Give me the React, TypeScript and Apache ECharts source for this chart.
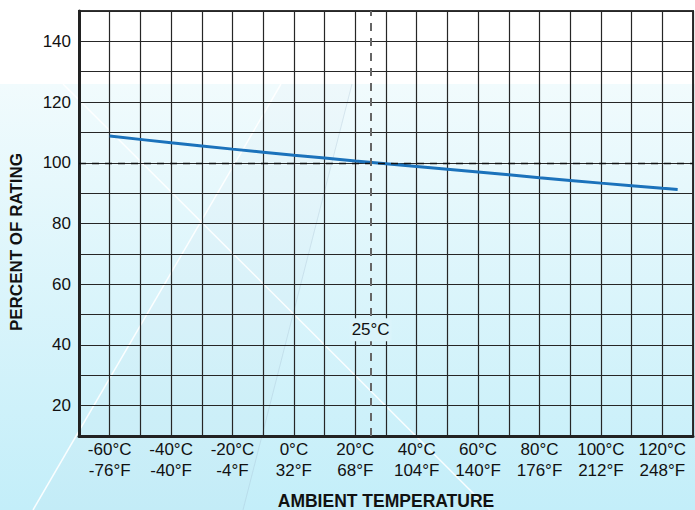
import React, { useEffect, useRef } from "react";
import * as echarts from "echarts";

const tempC = [-60, -40, -20, 0, 20, 40, 60, 80, 100, 120, 125];
const rating = [108.8, 106.6, 104.5, 102.5, 100.6, 98.8, 97.0, 95.1, 93.3, 91.6, 91.2];
const celsiusTicks = [-60, -40, -20, 0, 20, 40, 60, 80, 100, 120];
const fahrenheitTicks = [-76, -40, -4, 32, 68, 104, 140, 176, 212, 248];
const yTicks = [20, 40, 60, 80, 100, 120, 140];
const refTemp = 25;
const refRating = 100;
const refLabelLevel = 45;

const FONT = "'Liberation Sans', Arial, Helvetica, sans-serif";

export default function App() {
  const ref = useRef<HTMLDivElement>(null);
  useEffect(() => {
    if (!ref.current) return;
    const chart = echarts.init(ref.current, null, { renderer: "svg" });
    const gridColor = "#262626";
    chart.setOption({
      animation: false,
      backgroundColor: "#ffffff",
      textStyle: { fontFamily: FONT },
      graphic: [
        {
          type: "rect",
          z: -10,
          silent: true,
          shape: { x: 0, y: 84, width: 695, height: 426 },
          style: {
            fill: new echarts.graphic.LinearGradient(0, 0, 0, 1, [
              { offset: 0, color: "#f1fbfd" },
              { offset: 1, color: "#c3eef9" },
            ]),
          },
        },
        {
          type: "polygon",
          z: -9,
          silent: true,
          shape: { points: [[281, 84], [352, 84], [243, 510], [33, 510]] },
          style: { fill: "rgba(205,215,230,0.08)" },
        },
        {
          type: "line",
          z: -8,
          silent: true,
          shape: { x1: 63, y1: 84, x2: 490, y2: 510 },
          style: { stroke: "rgba(255,255,255,0.9)", lineWidth: 1.5 },
        },
        {
          type: "line",
          z: -8,
          silent: true,
          shape: { x1: 281, y1: 84, x2: 33, y2: 510 },
          style: { stroke: "rgba(255,255,255,0.9)", lineWidth: 1.5 },
        },
        {
          type: "line",
          z: -8,
          silent: true,
          shape: { x1: 352, y1: 84, x2: 243, y2: 510 },
          style: { stroke: "rgba(160,185,205,0.3)", lineWidth: 1 },
        },
        {
          type: "text",
          x: 16,
          y: 242,
          rotation: Math.PI / 2,
          style: {
            text: "PERCENT OF RATING",
            font: `bold 17px ${FONT}`,
            fill: "#111",
            textAlign: "center",
            textVerticalAlign: "middle",
          },
        },
      ],
      grid: {
        left: 79,
        top: 11,
        width: 614,
        height: 425,
        outerBoundsMode: "none",
        containLabel: false,
        show: true,
        borderColor: "#333",
        borderWidth: 2,
        backgroundColor: "transparent",
      },
      xAxis: {
        type: "value",
        min: -70,
        max: 130,
        interval: 10,
        name: "AMBIENT TEMPERATURE",
        nameLocation: "middle",
        nameGap: 56,
        nameTextStyle: { fontFamily: FONT, fontSize: 17.5, fontWeight: "bold", color: "#111" },
        axisLine: { show: true, onZero: false, lineStyle: { color: "#222", width: 3 } },
        axisTick: { show: false },
        splitLine: { show: true, lineStyle: { color: gridColor, width: 1.2 } },
        axisLabel: {
          margin: 3,
          fontFamily: FONT,
          fontSize: 17,
          lineHeight: 21,
          color: "#111",
          formatter: (v: number) => {
            const i = celsiusTicks.indexOf(v);
            return i >= 0 ? `${celsiusTicks[i]}°C\n${fahrenheitTicks[i]}°F` : "";
          },
        },
      },
      yAxis: {
        type: "value",
        min: 10,
        max: 150,
        interval: 10,
        axisLine: { show: true, onZero: false, lineStyle: { color: "#222", width: 3 } },
        axisTick: { show: false },
        splitLine: { show: true, lineStyle: { color: gridColor, width: 1.2 } },
        axisLabel: {
          margin: 8,
          fontFamily: FONT,
          fontSize: 17,
          color: "#111",
          formatter: (v: number) => (yTicks.indexOf(v) >= 0 ? String(v) : ""),
        },
      },
      series: [
        {
          type: "line",
          data: tempC.map((t, i) => [t, rating[i]]),
          smooth: 0.3,
          showSymbol: false,
          lineStyle: { color: "#1b72bb", width: 3 },
          z: 4,
          markLine: {
            silent: true,
            symbol: "none",
            label: { show: false },
            data: [
              { yAxis: refRating, lineStyle: { type: [7, 6], color: "#111", width: 1.3 } },
              { xAxis: refTemp, lineStyle: { type: [8, 7], color: "#666", width: 2 } },
            ],
          },
        },
        {
          type: "scatter",
          z: 6,
          data: [],
          markPoint: {
            silent: true,
            symbol: "rect",
            symbolSize: 0.1,
            itemStyle: { color: "transparent" },
            label: {
              show: true,
              position: "inside",
              formatter: "25°C",
              fontFamily: FONT,
              fontSize: 17,
              color: "#111",
              backgroundColor: "#daf4fb",
              padding: [3, 2, 3, 2],
            },
            data: [{ coord: [refTemp, refLabelLevel] }],
          },
        },
      ],
    });
    return () => chart.dispose();
  }, []);
  return (
    <div
      ref={ref}
      style={{ position: "fixed", left: 0, top: 0, width: 695, height: 510 }}
    />
  );
}
